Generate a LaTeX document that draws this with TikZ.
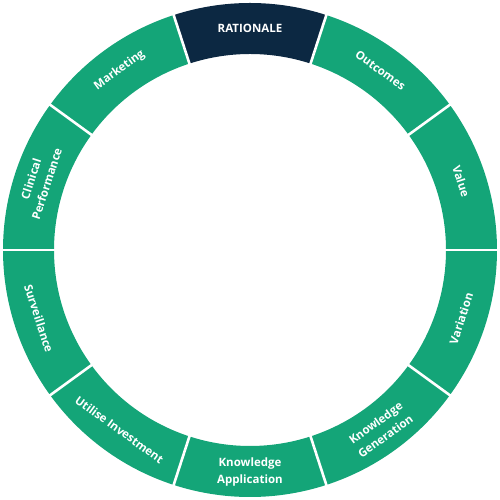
\documentclass[tikz,border=0pt]{standalone}
\usepackage{fontspec}
\setmainfont{Open Sans}
\definecolor{ringgreen}{RGB}{20,165,120}
\definecolor{ringnavy}{RGB}{12,40,66}
\begin{document}
\begin{tikzpicture}[x=1pt,y=1pt,
  lbl/.style={text=white,font=\bfseries\fontsize{11.5}{16.5}\selectfont,align=center,inner sep=0pt},
  gap/.style={white,line width=2.6pt}]
\useasboundingbox (0,0) rectangle (500,500);
\coordinate (c) at (250,250);
\foreach \a/\col in {90/ringnavy,54/ringgreen,18/ringgreen,-18/ringgreen,-54/ringgreen,-90/ringgreen,-126/ringgreen,-162/ringgreen,162/ringgreen,126/ringgreen} {
  \pgfmathsetmacro{\s}{\a-18}
  \pgfmathsetmacro{\e}{\a+18}
  \fill[\col] ([shift={(c)}]\s:247) arc[start angle=\s,end angle=\e,radius=247]
    -- ([shift={(c)}]\e:196) arc[start angle=\e,end angle=\s,radius=196] -- cycle;
}
\foreach \b in {72,36,0,-36,-72,-108,-144,180,144,108} {
  \draw[gap] ([shift={(c)}]\b:190) -- ([shift={(c)}]\b:252);
}
\node[lbl] (rationale) at ([shift={(c)}]90:222) {RATIONALE};
\node[lbl,rotate=-36] (outcomes) at ([shift={(c)}]54:222) {Outcomes};
\node[lbl,rotate=-72] (value) at ([shift={(c)}]18:222) {Value};
\node[lbl,rotate=72] (variation) at ([shift={(c)}]-18:222) {Variation};
\node[lbl,rotate=36] (kgen) at ([shift={(c)}]-54:222) {Knowledge\\Generation};
\node[lbl] (kapp) at ([shift={(c)}]-90:222) {Knowledge\\Application};
\node[lbl,rotate=-36] (utilise) at ([shift={(c)}]-126:222) {Utilise Investment};
\node[lbl,rotate=-72] (surveillance) at ([shift={(c)}]-162:222) {Surveillance};
\node[lbl,rotate=72] (clinical) at ([shift={(c)}]162:222) {Clinical\\Performance};
\node[lbl,rotate=36] (marketing) at ([shift={(c)}]126:222) {Marketing};
\end{tikzpicture}
\end{document}
